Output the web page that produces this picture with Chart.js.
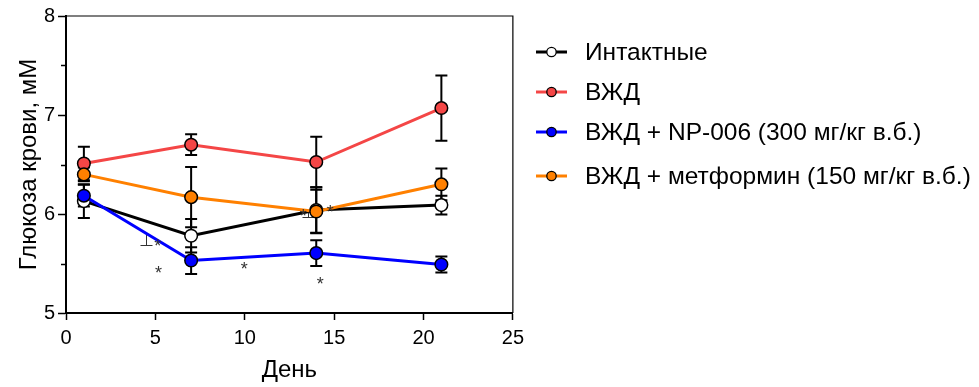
<!DOCTYPE html>
<html>
<head>
<meta charset="utf-8">
<script src="https://cdn.jsdelivr.net/npm/chart.js@4.4.1/dist/chart.umd.min.js"></script>
<style>
    html, body { margin: 0; padding: 0; background: #fff; }
    #wrap { position: relative; width: 979px; height: 387px; font-family: "Liberation Sans", Arial, sans-serif; }
    #box { position: absolute; left: 0; top: 0; width: 530px; height: 387px; }
    #legend { position: absolute; left: 536px; top: 32px; }
    .item { height: 40px; display: flex; align-items: center; font-size: 24.5px; color: #000; white-space: nowrap; }
    .item:last-child { margin-top: 4px; }
    .item canvas { margin-right: 18px; }
</style>
</head>
<body>
<div id="wrap">
    <div id="box"><canvas id="chart"></canvas></div>
    <div id="legend"></div>
</div>
<script>
// data
const days = [1, 7, 14, 21];
const seriesNames = ['Интактные', 'ВЖД', 'ВЖД + NP-006 (300 мг/кг в.б.)', 'ВЖД + метформин (150 мг/кг в.б.)'];
const intact = [6.13, 5.78, 6.04, 6.09];
const intactErr = [0.17, 0.17, 0.23, 0.095];
const vzhd = [6.51, 6.70, 6.525, 7.07];
const vzhdErr = [0.17, 0.105, 0.255, 0.33];
const np006 = [6.185, 5.53, 5.605, 5.49];
const np006Err = [0.11, 0.135, 0.13, 0.08];
const metformin = [6.40, 6.17, 6.025, 6.30];
const metforminErr = [0.07, 0.305, 0.22, 0.16];

// significance marks (day, mM)
const starX = [5.13, 5.17, 9.97, 14.22, 13.27, 14.78];
const starY = [5.71, 5.43, 5.47, 5.32, 6.01, 6.05];
// stray half error bars left in the figure (day, top, bottom)
const strayX = [4.48, 13.55];
const strayTop = [5.80, 6.04];
const strayBot = [5.69, 5.97];

const xMin = 0, xMax = 25, xStep = 5;
const yMin = 5, yMax = 8, yStep = 0.5;

const lineColors = ['#000000', '#f44646', '#0000ff', '#ff8000'];
const fillColors = ['#ffffff', '#f44646', '#0000ff', '#ff8000'];
const means = [intact, vzhd, np006, metformin];
const errs = [intactErr, vzhdErr, np006Err, metforminErr];
const drawOrder = [4, 3, 2, 1];

const FONT = '"Liberation Sans", Arial, sans-serif';

// error bars under the points
const errorBars = {
    id: 'errorBars',
    beforeDatasetsDraw(chart) {
        const ctx = chart.ctx;
        const xs = chart.scales.x, ys = chart.scales.y;
        ctx.save();
        ctx.strokeStyle = '#000';
        ctx.lineWidth = 2;
        means.forEach((m, i) => {
            m.forEach((v, j) => {
                const x = xs.getPixelForValue(days[j]);
                const yt = ys.getPixelForValue(v + errs[i][j]);
                const yb = ys.getPixelForValue(v - errs[i][j]);
                ctx.beginPath();
                ctx.moveTo(x, yt); ctx.lineTo(x, yb);
                ctx.moveTo(x - 6, yt); ctx.lineTo(x + 6, yt);
                ctx.moveTo(x - 6, yb); ctx.lineTo(x + 6, yb);
                ctx.stroke();
            });
        });
        // the stray ones, thin and grey
        ctx.strokeStyle = '#333';
        ctx.lineWidth = 1;
        strayX.forEach((sx, i) => {
            const x = Math.round(xs.getPixelForValue(sx)) + 0.5;
            const yt = ys.getPixelForValue(strayTop[i]);
            const yb = Math.round(ys.getPixelForValue(strayBot[i])) + 0.5;
            ctx.beginPath();
            ctx.moveTo(x, yt); ctx.lineTo(x, yb);
            ctx.moveTo(x - 6, yb); ctx.lineTo(x + 6, yb);
            ctx.stroke();
        });
        ctx.restore();
    }
};

// thin frame on top/right and short minor ticks on y
const frame = {
    id: 'frame',
    beforeDatasetsDraw(chart) {
        const ctx = chart.ctx;
        const a = chart.chartArea;
        const ys = chart.scales.y;
        ctx.save();
        ctx.strokeStyle = '#000';
        ctx.lineWidth = 1.2;
        ctx.beginPath();
        ctx.moveTo(a.left, a.top); ctx.lineTo(a.right, a.top); ctx.lineTo(a.right, a.bottom);
        ctx.stroke();
        ctx.lineWidth = 1.5;
        ys.ticks.forEach(t => {
            if (!Number.isInteger(t.value)) {
                const y = Math.round(ys.getPixelForValue(t.value)) + 0.5;
                ctx.beginPath();
                ctx.moveTo(a.left - 5, y); ctx.lineTo(a.left, y);
                ctx.stroke();
            }
        });
        ctx.restore();
    }
};

const stars = {
    id: 'stars',
    afterDatasetsDraw(chart) {
        const ctx = chart.ctx;
        const xs = chart.scales.x, ys = chart.scales.y;
        ctx.save();
        ctx.fillStyle = '#333';
        ctx.font = '18px ' + FONT;
        ctx.textAlign = 'center';
        ctx.textBaseline = 'middle';
        starX.forEach((sx, i) => {
            ctx.fillText('*', xs.getPixelForValue(sx), ys.getPixelForValue(starY[i]) + 4);
        });
        ctx.restore();
    }
};

const datasets = means.map((m, i) => ({
    label: seriesNames[i],
    data: m.map((v, j) => ({ x: days[j], y: v })),
    borderColor: lineColors[i],
    borderWidth: 3,
    pointBackgroundColor: fillColors[i],
    pointBorderColor: '#000',
    pointBorderWidth: 1.5,
    pointRadius: 6.3,
    tension: 0,
    order: drawOrder[i],
}));

new Chart(document.getElementById('chart'), {
    type: 'line',
    data: { datasets: datasets },
    options: {
        responsive: true,
        maintainAspectRatio: false,
        animation: false,
        layout: { padding: { top: 16, right: 17, left: 0, bottom: 0 } },
        plugins: {
            legend: { display: false },
            tooltip: { enabled: false },
        },
        scales: {
            x: {
                type: 'linear',
                min: xMin,
                max: xMax,
                ticks: { stepSize: xStep, color: '#000', font: { size: 20, family: FONT }, padding: 6, maxRotation: 0 },
                grid: { drawOnChartArea: false, tickLength: 7, tickColor: '#000', tickWidth: 1.5 },
                border: { color: '#000', width: 2 },
                title: { display: true, text: 'День', color: '#000', font: { size: 24, family: FONT }, padding: { top: 4, bottom: 2 } },
                afterFit: scale => { scale.height = 74; },
            },
            y: {
                min: yMin,
                max: yMax,
                ticks: {
                    stepSize: yStep,
                    autoSkip: false,
                    color: '#000',
                    font: { size: 20, family: FONT },
                    padding: 3,
                    callback: v => Number.isInteger(v) ? v : '',
                },
                grid: {
                    drawOnChartArea: false,
                    tickLength: 8,
                    tickWidth: 1.5,
                    tickColor: ctx => Number.isInteger(ctx.tick.value) ? '#000' : 'rgba(0,0,0,0)',
                },
                border: { color: '#000', width: 2 },
                title: { display: true, text: 'Глюкоза крови, мМ', color: '#000', font: { size: 24, family: FONT }, padding: { top: 15, bottom: 0 } },
                afterFit: scale => { scale.width = 66; },
            },
        },
    },
    plugins: [frame, errorBars, stars],
});

// legend: short line with a dot, then the name
const legend = document.getElementById('legend');
seriesNames.forEach((name, i) => {
    const row = document.createElement('div');
    row.className = 'item';
    const icon = document.createElement('canvas');
    icon.width = 31; icon.height = 14;
    const c = icon.getContext('2d');
    c.strokeStyle = lineColors[i];
    c.lineWidth = 3;
    c.beginPath(); c.moveTo(0, 7); c.lineTo(31, 7); c.stroke();
    c.fillStyle = fillColors[i];
    c.strokeStyle = '#000';
    c.lineWidth = 1.3;
    c.beginPath(); c.arc(15.5, 7, 4.7, 0, Math.PI * 2); c.fill(); c.stroke();
    const label = document.createElement('span');
    label.textContent = name;
    row.appendChild(icon);
    row.appendChild(label);
    legend.appendChild(row);
});
</script>
</body>
</html>
